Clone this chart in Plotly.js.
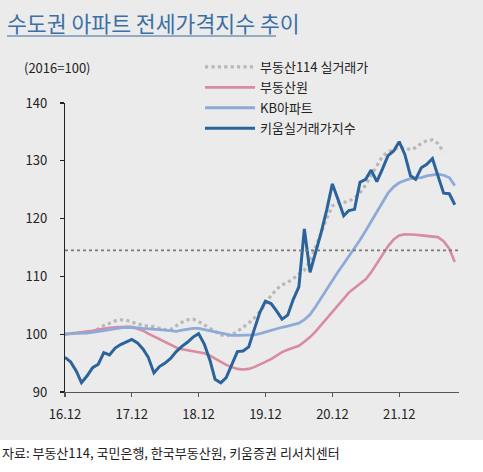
<!DOCTYPE html>
<html>
<head>
<meta charset="utf-8">
<script src="https://cdn.plot.ly/plotly-3.0.1.min.js"></script>
<style>
html,body{margin:0;padding:0;background:#ffffff;}
#chart{width:483px;height:472px;}
</style>
</head>
<body>
<div id="chart"></div>
<script>
// ---- data (monthly, starting 2016.12) ----
const startYear = 2016, startMonth = 12;
const seriesNames = ['부동산114 실거래가', '부동산원', 'KB아파트', '키움실거래가지수'];

const r114 = [100.0,100.1,100.2,100.2,100.3,100.5,100.9,101.5,101.9,102.3,102.5,102.4,102.1,101.8,101.5,101.4,101.3,101.0,100.8,100.8,
  101.5,102.1,102.5,102.6,102.2,101.6,101.0,100.4,99.9,99.7,99.9,100.5,101.2,101.9,102.8,103.9,105.3,106.7,107.8,108.5,
  109.0,109.6,110.4,111.1,112.6,115.2,117.8,120.1,122.2,122.7,122.8,123.0,123.6,124.5,125.8,127.5,129.3,130.8,131.5,132.0,
  132.3,132.3,131.9,132.3,133.0,133.5,133.6,133.0,131.5];

const reb = [100.0,100.1,100.2,100.3,100.5,100.6,100.8,101.0,101.1,101.2,101.3,101.3,101.3,101.0,100.6,100.1,99.6,99.1,98.6,98.1,
  97.7,97.4,97.2,97.1,96.9,96.7,96.3,95.8,95.2,94.7,94.3,94.0,93.9,94.0,94.3,94.7,95.2,95.7,96.3,96.9,
  97.3,97.6,98.0,98.7,99.5,100.5,101.6,102.7,103.8,105.0,106.2,107.2,108.0,108.7,109.5,110.7,112.2,113.7,115.2,116.4,
  117.1,117.3,117.3,117.2,117.1,117.0,116.9,116.8,116.1,114.8,112.5];

const kb = [100.0,100.1,100.1,100.2,100.2,100.3,100.4,100.6,100.8,101.0,101.1,101.2,101.2,101.1,101.0,100.9,100.9,100.8,100.7,100.6,
  100.5,100.7,100.9,101.0,101.0,100.8,100.5,100.3,100.1,99.9,99.8,99.8,99.8,99.8,99.9,100.1,100.4,100.7,100.9,101.2,
  101.4,101.6,101.9,102.5,103.4,104.8,106.3,107.8,109.4,110.8,112.2,113.5,114.8,116.3,117.9,119.5,121.2,122.9,124.4,125.5,
  126.2,126.6,126.9,127.0,127.1,127.4,127.6,127.7,127.5,127.1,125.7];

const kiwoom = [96.0,95.2,93.6,91.6,92.8,94.2,94.8,96.8,96.4,97.6,98.2,98.7,99.1,98.5,97.4,96.0,93.3,94.4,95.0,95.8,
  97.0,97.9,98.6,99.5,100.1,98.3,95.5,92.2,91.6,92.5,94.8,97.0,97.1,97.8,100.8,103.8,105.7,105.3,104.0,102.6,
  103.3,106.0,108.2,118.2,110.7,114.0,117.6,121.6,126.0,123.3,120.5,121.4,121.6,126.3,126.8,128.4,126.4,128.6,130.9,131.7,
  133.3,131.1,127.4,126.8,128.8,129.4,130.4,127.4,124.4,124.3,122.4];

const refLevel = 114.5;
const yTicks = [90, 100, 110, 120, 130, 140];
const xTickLabels = ['16.12', '17.12', '18.12', '19.12', '20.12', '21.12'];

const titleText = '수도권 아파트 전세가격지수 추이';
const unitText = '(2016=100)';
const sourceText = '자료: 부동산114, 국민은행, 한국부동산원, 키움증권 리서치센터';

// ---- build month axis ----
function monthStr(i) {
  const d = new Date(Date.UTC(startYear, startMonth - 1 + i, 1));
  return d.getUTCFullYear() + '-' + String(d.getUTCMonth() + 1).padStart(2, '0') + '-01';
}
const nMax = Math.max(r114.length, reb.length, kb.length, kiwoom.length);
const months = [];
for (let i = 0; i < nMax; i++) months.push(monthStr(i));
const xTickVals = xTickLabels.map(t => '20' + t.split('.')[0] + '-' + t.split('.')[1] + '-01');

const FONT = '"Noto Sans CJK KR", "Noto Sans", sans-serif';

const traces = [
  {y: r114, name: seriesNames[0], line: {color: '#b8b8b8', width: 3.2, dash: 'dot'}},
  {y: reb, name: seriesNames[1], line: {color: '#d98ba0', width: 2.6}},
  {y: kb, name: seriesNames[2], line: {color: '#8eaad6', width: 2.8}},
  {y: kiwoom, name: seriesNames[3], line: {color: '#2b639b', width: 3}}
].map((t, i) => Object.assign(t, {
  x: months.slice(0, t.y.length), type: 'scatter', mode: 'lines',
  legendgroup: 'g' + i, hoverinfo: 'skip'
}));

// layout geometry (pixels)
const W = 483, H = 472, L = 65, R = 24, T = 103, B = 80;
const pw = W - L - R, ph = H - T - B;
const px = x => (x - L) / pw;
const py = y => (H - B - y) / ph;

const layout = {
  width: W, height: H,
  margin: {l: L, r: R, t: T, b: B, pad: 0},
  paper_bgcolor: '#ebebeb', plot_bgcolor: 'rgba(0,0,0,0)',
  font: {family: FONT, size: 13, color: '#222'},
  title: {
    text: titleText, xref: 'container', yref: 'container',
    x: 7 / W, xanchor: 'left', y: 1 - 24 / H, yanchor: 'middle',
    font: {family: FONT, size: 21.6, color: '#3b6fa6'}
  },
  xaxis: {
    type: 'date', range: ['2016-12-01', '2022-10-24'],
    tickvals: xTickVals, ticktext: xTickLabels,
    showgrid: false, zeroline: false, showline: true, linecolor: '#555', linewidth: 1.2,
    ticks: 'outside', ticklen: 4, tickcolor: '#555', tickwidth: 1.2,
    ticklabelstandoff: 6, tickfont: {family: FONT, size: 13, color: '#222'},
    fixedrange: true
  },
  yaxis: {
    range: [90, 140], tickvals: yTicks,
    showgrid: false, zeroline: false, showline: true, linecolor: '#222', linewidth: 1.2,
    ticks: 'outside', ticklen: 4, tickcolor: '#222', tickwidth: 1.2,
    ticklabelstandoff: 10, tickfont: {family: FONT, size: 13, color: '#222'},
    fixedrange: true
  },
  showlegend: true,
  legend: {
    x: px(200), xanchor: 'left', y: py(52), yanchor: 'top',
    bgcolor: 'rgba(0,0,0,0)', borderwidth: 0,
    font: {family: FONT, size: 13, color: '#222'},
    tracegroupgap: 0.5, itemwidth: 50, traceorder: 'grouped'
  },
  shapes: [
    {type: 'rect', xref: 'paper', yref: 'paper', x0: px(-5), x1: px(W + 5), y0: py(440), y1: py(H + 5),
     fillcolor: '#ffffff', line: {width: 0}, layer: 'below'},
    {type: 'line', xref: 'paper', yref: 'y', x0: 0, x1: 1, y0: refLevel, y1: refLevel,
     line: {color: '#7a7a7a', width: 1.6, dash: 'dot'}, layer: 'above'},
    {type: 'line', xref: 'paper', yref: 'paper', x0: px(7), x1: px(276), y0: py(36), y1: py(36),
     line: {color: '#3b6fa6', width: 1.2}}
  ],
  annotations: [
    {text: unitText, xref: 'paper', yref: 'paper', x: px(22), y: py(68), xanchor: 'left', yanchor: 'middle',
     showarrow: false, font: {family: FONT, size: 13, color: '#222'}},
    {text: sourceText, xref: 'paper', yref: 'paper', x: px(0), y: py(452), xanchor: 'left', yanchor: 'middle',
     showarrow: false, font: {family: FONT, size: 13, color: '#222'}}
  ]
};

Plotly.newPlot('chart', traces, layout, {displayModeBar: false, staticPlot: true});
</script>
</body>
</html>
